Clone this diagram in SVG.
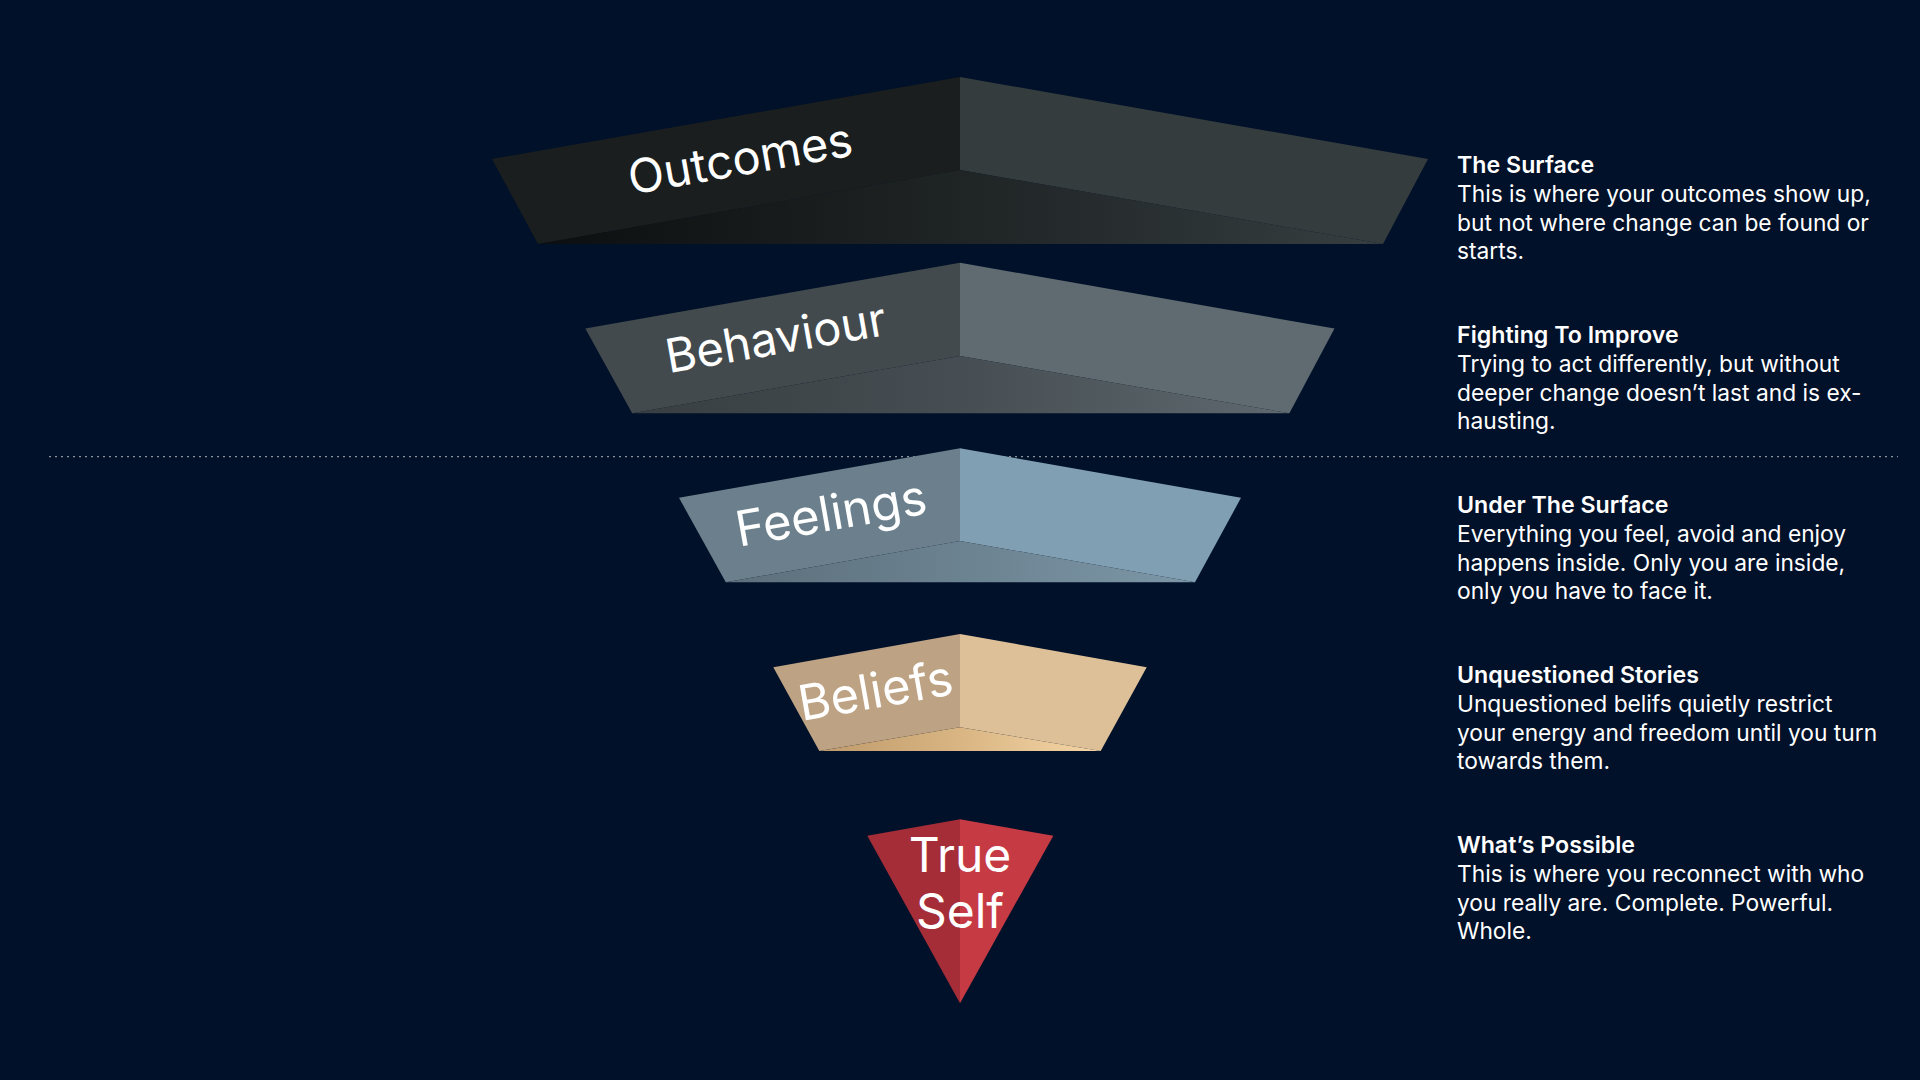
<svg xmlns="http://www.w3.org/2000/svg" width="1920" height="1080" viewBox="0 0 1920 1080">
  <defs>
    <style>
      .lbl { font-family: Inter, "Open Sans", "Liberation Sans", sans-serif; font-size: 47px; fill: #ffffff; text-anchor: middle; }
      .hd { font-family: Inter, "Liberation Sans", sans-serif; font-size: 23.2px; font-weight: 600; fill: #ffffff; }
      .bd { font-family: Inter, "Liberation Sans", sans-serif; font-size: 22.75px; fill: #ffffff; }
    </style>
    <linearGradient id="gOut" gradientUnits="userSpaceOnUse" x1="538" y1="0" x2="1383" y2="0">
      <stop offset="0" stop-color="#0c0f10"/>
      <stop offset="0.5" stop-color="#1f2425"/>
      <stop offset="1" stop-color="#363e40"/>
    </linearGradient>
    <linearGradient id="gBeh" gradientUnits="userSpaceOnUse" x1="632" y1="0" x2="1289" y2="0">
      <stop offset="0" stop-color="#383e41"/>
      <stop offset="0.5" stop-color="#464e53"/>
      <stop offset="1" stop-color="#5e686e"/>
    </linearGradient>
    <linearGradient id="gFee" gradientUnits="userSpaceOnUse" x1="726" y1="0" x2="1195" y2="0">
      <stop offset="0" stop-color="#5d6f7b"/>
      <stop offset="0.5" stop-color="#6b8290"/>
      <stop offset="1" stop-color="#7d97a8"/>
    </linearGradient>
    <linearGradient id="gBel" gradientUnits="userSpaceOnUse" x1="819" y1="0" x2="1101" y2="0">
      <stop offset="0" stop-color="#bf9a6b"/>
      <stop offset="0.5" stop-color="#d9b583"/>
      <stop offset="1" stop-color="#f6d6a6"/>
    </linearGradient>
  </defs>

  <rect width="1920" height="1080" fill="#011129"/>

  <g id="connectors">
    <line x1="49" y1="456.7" x2="1898" y2="456.7" stroke="#8c929b" stroke-width="1.3" stroke-dasharray="2 4"/>
  </g>

  <g id="outcomes">
    <polygon points="960,77 492,159 538,244 960,170" fill="#1a1e1e"/>
    <polygon points="960,77 1428,159 1383,244 960,170" fill="#343c3e"/>
    <polygon points="538,244 960,170 1383,244" fill="url(#gOut)"/>
    <text class="lbl" transform="translate(743,175) rotate(-10)">Outcomes</text>
  </g>

  <g id="behaviour">
    <polygon points="960,262.7 585.3,328.5 632.2,413.3 960,356" fill="#434a4d"/>
    <polygon points="960,262.7 1334.5,328.5 1289.4,413.3 960,356" fill="#606b71"/>
    <polygon points="632.2,413.3 960,356 1289.4,413.3" fill="url(#gBeh)"/>
    <text class="lbl" transform="translate(778.5,354) rotate(-10)">Behaviour</text>
  </g>

  <g id="feelings">
    <polygon points="960,448.3 679,497.8 725.8,582.3 960,541" fill="#6b808c"/>
    <polygon points="960,448.3 1241,497.8 1195,582.3 960,541" fill="#819fb2"/>
    <polygon points="725.8,582.3 960,541 1195,582.3" fill="url(#gFee)"/>
    <text class="lbl" style="font-size:49px" transform="translate(834,530) rotate(-10)">Feelings</text>
  </g>

  <g id="beliefs">
    <polygon points="960,634 773.3,667.3 819.3,751 960,727.3" fill="#bda283"/>
    <polygon points="960,634 1146.7,667.3 1100.7,751 960,727.3" fill="#dec098"/>
    <polygon points="819.3,751 960,727.3 1100.7,751" fill="url(#gBel)"/>
    <text class="lbl" style="font-size:49px" transform="translate(878.5,707.5) rotate(-10)">Beliefs</text>
  </g>

  <g id="true-self">
    <polygon points="960,819.3 867.3,835.7 960,1003.3" fill="#a52d37"/>
    <polygon points="960,819.3 1053.3,835.7 960,1003.3" fill="#c63a44"/>
    <text class="lbl" style="font-size:48px" x="960" y="871.7">True</text>
    <text class="lbl" style="font-size:48px" x="960" y="928.3">Self</text>
  </g>

  <g id="desc-surface">
    <text class="hd" x="1457" y="172.7">The Surface</text>
    <text class="bd" x="1457" y="201.7">This is where your outcomes show up,</text>
    <text class="bd" x="1457" y="230.5">but not where change can be found or</text>
    <text class="bd" x="1457" y="259.2">starts.</text>
  </g>

  <g id="desc-fighting">
    <text class="hd" x="1457" y="342.7">Fighting To Improve</text>
    <text class="bd" x="1457" y="371.7">Trying to act differently, but without</text>
    <text class="bd" x="1457" y="400.5">deeper change doesn’t last and is ex-</text>
    <text class="bd" x="1457" y="429.2">hausting.</text>
  </g>

  <g id="desc-under">
    <text class="hd" x="1457" y="512.7">Under The Surface</text>
    <text class="bd" x="1457" y="541.7">Everything you feel, avoid and enjoy</text>
    <text class="bd" x="1457" y="570.5">happens inside. Only you are inside,</text>
    <text class="bd" x="1457" y="599.2">only you have to face it.</text>
  </g>

  <g id="desc-stories">
    <text class="hd" x="1457" y="682.7">Unquestioned Stories</text>
    <text class="bd" x="1457" y="711.7">Unquestioned belifs quietly restrict</text>
    <text class="bd" x="1457" y="740.5">your energy and freedom until you turn</text>
    <text class="bd" x="1457" y="769.2">towards them.</text>
  </g>

  <g id="desc-possible">
    <text class="hd" x="1457" y="852.7">What’s Possible</text>
    <text class="bd" x="1457" y="881.7">This is where you reconnect with who</text>
    <text class="bd" x="1457" y="910.5">you really are. Complete. Powerful.</text>
    <text class="bd" x="1457" y="939.2">Whole.</text>
  </g>
</svg>
